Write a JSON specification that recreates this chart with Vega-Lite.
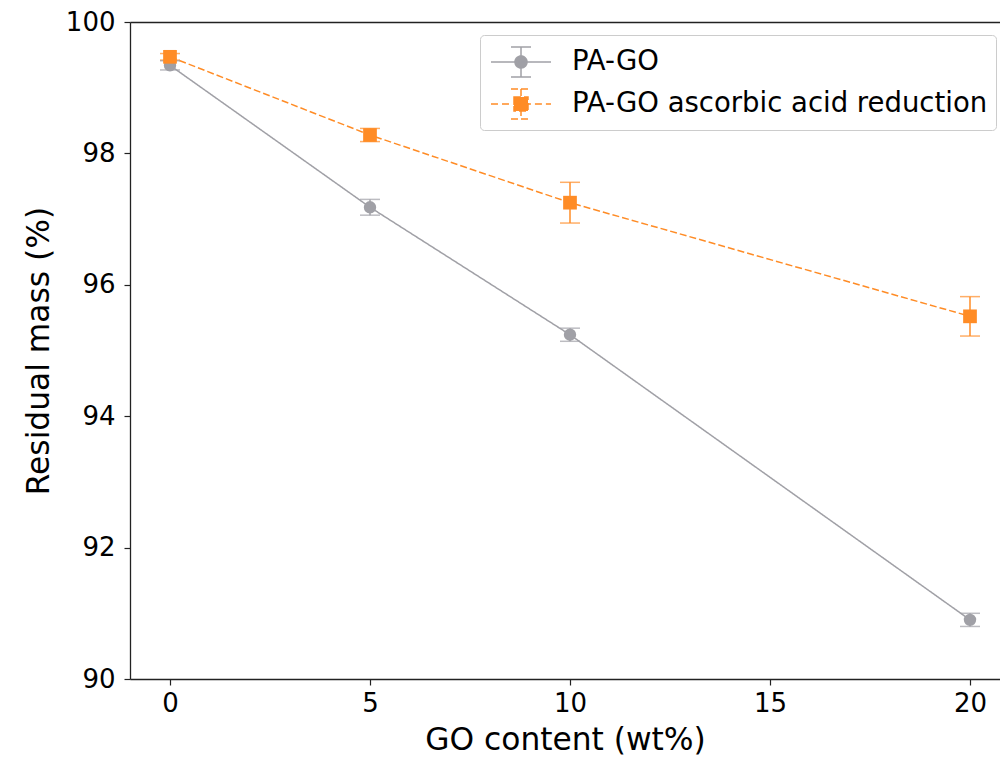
{
  "$schema": "https://vega.github.io/schema/vega-lite/v6.json",
  "autosize": {"type": "none"},
  "padding": {"left": 130, "top": 22, "right": 0, "bottom": 80},
  "width": 870,
  "height": 657,
  "background": "white",
  "data": {
    "values": [
      {"series": "PA-GO", "go": 0, "mass": 99.34, "err": 0.07},
      {"series": "PA-GO", "go": 5, "mass": 97.18, "err": 0.12},
      {"series": "PA-GO", "go": 10, "mass": 95.24, "err": 0.1},
      {"series": "PA-GO", "go": 20, "mass": 90.9, "err": 0.1},
      {"series": "PA-GO ascorbic acid reduction", "go": 0, "mass": 99.47, "err": 0.05},
      {"series": "PA-GO ascorbic acid reduction", "go": 5, "mass": 98.28, "err": 0.1},
      {"series": "PA-GO ascorbic acid reduction", "go": 10, "mass": 97.25, "err": 0.31},
      {"series": "PA-GO ascorbic acid reduction", "go": 20, "mass": 95.52, "err": 0.3}
    ]
  },
  "resolve": {"axis": {"x": "independent"}},
  "layer": [
    {
      "mark": {"type": "line", "strokeWidth": 1.5},
      "encoding": {
        "x": {"field": "go", "type": "quantitative", "scale": {"domain": [-1, 20.75], "nice": false, "zero": false},
              "axis": {"orient": "bottom", "values": [0, 5, 10, 15, 20], "title": "GO content (wt%)"}},
        "y": {"field": "mass", "type": "quantitative", "scale": {"domain": [90, 100], "nice": false, "zero": false},
              "axis": {"values": [90, 92, 94, 96, 98, 100], "format": "d", "title": "Residual mass (%)"}},
        "color": {"field": "series", "type": "nominal",
                  "scale": {"domain": ["PA-GO", "PA-GO ascorbic acid reduction"], "range": ["#a0a0a6", "#ff8c26"]},
                  "legend": {
                    "orient": "none",
                    "legendX": 350,
                    "legendY": 13,
                    "title": null,
                    "padding": 8,
                    "rowPadding": 5,
                    "symbolSize": 1296,
                    "labelOffset": 46,
                    "labelFont": "DejaVu Sans",
                    "labelFontSize": 27.5,
                    "labelColor": "black",
                    "labelLimit": 1000,
                    "strokeColor": "#cccccc",
                    "fillColor": "white",
                    "cornerRadius": 4,
                    "symbolStrokeWidth": 1.5,
                    "encode": {
                      "symbols": {
                        "update": {
                          "shape": {"signal": "datum.value === 'PA-GO' ? 'M-0.889,0H2.444M0.778,-0.833V0.833M0.222,-0.833H1.333M0.222,0.833H1.333M1.111,0A0.333,0.333 0 1 1 0.444,0A0.333,0.333 0 1 1 1.111,0Z' : 'M-0.889,0H-0.459M-0.279,0H0.151M0.331,0H0.761M0.941,0H1.371M1.551,0H1.981M2.161,0H2.444M0.778,-0.833V0.833M0.222,-0.833H1.333M0.222,0.833H1.333M0.389,-0.389H1.167V0.389H0.389Z'"},
                          "fill": {"signal": "datum.value === 'PA-GO' ? '#a0a0a6' : '#ff8c26'"},
                          "stroke": {"signal": "datum.value === 'PA-GO' ? '#a0a0a6' : '#ff8c26'"},
                          "strokeDash": {"value": [1, 0]},
                          "strokeWidth": {"value": 1.5},
                          "opacity": {"value": 1},
                          "fillOpacity": {"value": 1},
                          "size": {"value": 1296}
                        }
                      }
                    }
                  }},
        "strokeDash": {"field": "series", "type": "nominal",
                       "scale": {"domain": ["PA-GO", "PA-GO ascorbic acid reduction"], "range": [[1, 0], [7, 3]]}, "legend": null}
      }
    },
    {
      "mark": {"type": "errorbar", "ticks": {"size": 20}, "thickness": 1.5},
      "encoding": {
        "x": {"field": "go", "type": "quantitative", "axis": null},
        "y": {"field": "mass", "type": "quantitative",
              "axis": {"values": [90, 92, 94, 96, 98, 100], "format": "d", "title": "Residual mass (%)"}},
        "yError": {"field": "err"},
        "color": {"field": "series", "type": "nominal", "legend": null}
      }
    },
    {
      "transform": [{"filter": "datum.series === 'PA-GO'"}],
      "mark": {"type": "point", "filled": true, "opacity": 1, "shape": "circle", "size": 154},
      "encoding": {
        "x": {"field": "go", "type": "quantitative",
              "axis": {"orient": "top", "labels": false, "ticks": false, "title": null, "domain": true}},
        "y": {"field": "mass", "type": "quantitative",
              "axis": {"values": [90, 92, 94, 96, 98, 100], "format": "d", "title": "Residual mass (%)"}},
        "color": {"field": "series", "type": "nominal", "legend": null}
      }
    },
    {
      "transform": [{"filter": "datum.series !== 'PA-GO'"}],
      "mark": {"type": "point", "filled": true, "opacity": 1, "shape": "square", "size": 188},
      "encoding": {
        "x": {"field": "go", "type": "quantitative", "axis": null},
        "y": {"field": "mass", "type": "quantitative",
              "axis": {"values": [90, 92, 94, 96, 98, 100], "format": "d", "title": "Residual mass (%)"}},
        "color": {"field": "series", "type": "nominal", "legend": null}
      }
    }
  ],
  "config": {
    "view": {"stroke": null},
    "font": "DejaVu Sans",
    "axis": {
      "grid": false,
      "domainColor": "#222222",
      "domainWidth": 1.3,
      "tickColor": "#222222",
      "tickWidth": 1.2,
      "tickSize": 6,
      "labelFont": "DejaVu Sans",
      "labelFontSize": 26,
      "labelColor": "black",
      "titleFont": "DejaVu Sans",
      "titleFontSize": 31.3,
      "titleFontWeight": "normal",
      "titleColor": "black"
    },
    "axisX": {"labelPadding": 5, "titlePadding": 8},
    "axisY": {"labelPadding": 9, "titlePadding": 10}
  }
}
